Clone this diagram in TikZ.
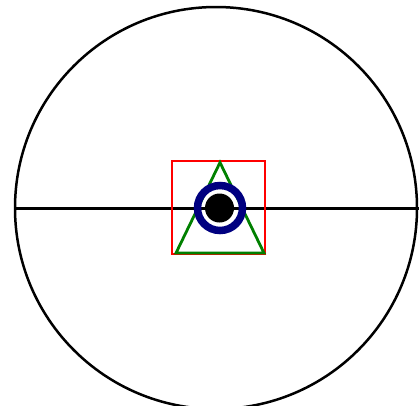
\documentclass[tikz,border=0pt]{standalone}
\begin{document}
\begin{tikzpicture}[x=1pt,y=-1pt,
  outline/.style={black,line width=2.5pt},
  sq/.style={red,line width=2.4pt},
  tri/.style={green!50!black,line width=2.8pt,line join=miter},
  ring/.style={blue!50!black,line width=7.5pt}]
\useasboundingbox (0,0) rectangle (419,405);
\clip (0,0) rectangle (419,405);
\coordinate (c) at (216,208);
\draw[outline] (c) circle[radius=201];
\draw[outline] (15,208.5) -- (425,208.5);
\draw[sq] (172,161) rectangle (265,254);
\draw[tri] (220,162.5) -- (264,253) -- (176,253) -- cycle;
\draw[ring] (220,208) circle[radius=22.5];
\fill[black] (219.5,208) circle[radius=14.5];
\end{tikzpicture}
\end{document}
